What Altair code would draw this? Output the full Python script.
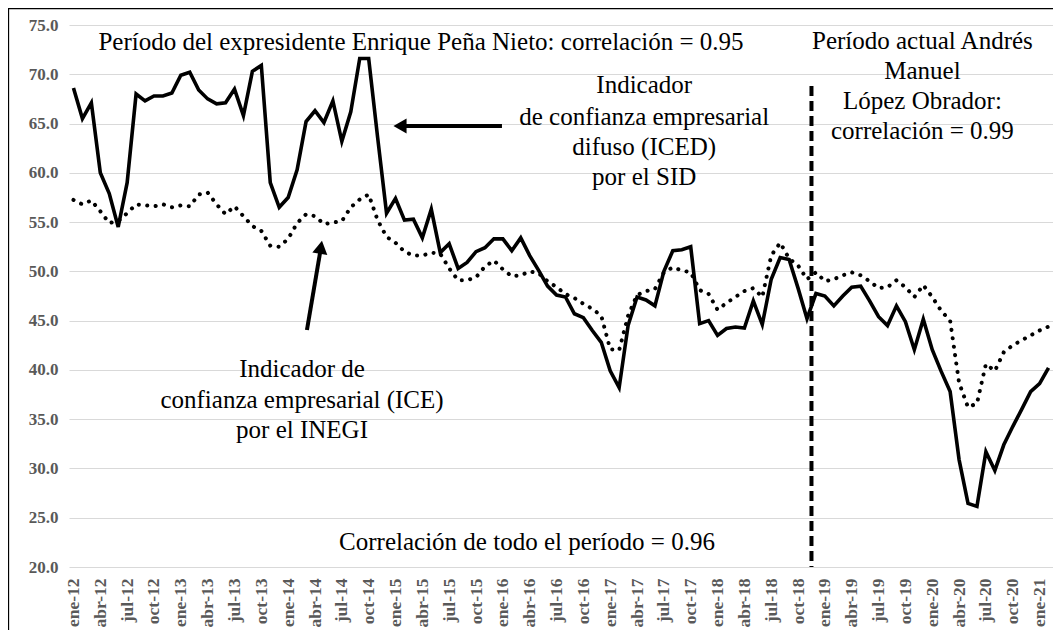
import altair as alt
import pandas as pd

meses = ["ene", "feb", "mar", "abr", "may", "jun", "jul", "ago", "sep", "oct", "nov", "dic"]
anios = list(range(12, 22))
etiquetas = [f"{m}-{a}" for a in anios for m in meses][:110]

# Indicador de confianza empresarial difuso (ICED) por el SID
iced = [68.6, 65.5, 67.1, 60.0, 57.9, 54.5, 59.0, 68.0, 67.3, 67.8,
        67.8, 68.1, 69.9, 70.2, 68.4, 67.5, 67.0, 67.1, 68.5, 65.8,
        70.3, 70.9, 59.0, 56.5, 57.5, 60.3, 65.2, 66.3, 65.1, 67.3,
        63.2, 66.2, 71.6, 71.6, 63.6, 55.9, 57.4, 55.2, 55.3, 53.4,
        56.3, 51.9, 52.8, 50.3, 50.9, 52.0, 52.4, 53.3, 53.3, 52.1,
        53.4, 51.6, 50.1, 48.5, 47.6, 47.4, 45.7, 45.3, 44.0, 42.8,
        39.9, 38.2, 44.5, 47.4, 47.1, 46.5, 50.0, 52.1, 52.2, 52.5,
        44.7, 45.0, 43.5, 44.2, 44.35, 44.25, 47.0, 44.6, 49.2, 51.4,
        51.2, 48.3, 45.2, 47.75, 47.5, 46.5, 47.5, 48.4, 48.5, 47.0,
        45.4, 44.5, 46.5, 44.9, 42.05, 45.15, 42.05, 39.85, 37.8, 30.9,
        26.45, 26.15, 31.7, 29.8, 32.4, 34.25, 36.0, 37.8, 38.6, 40.2]

# Indicador de confianza empresarial (ICE) por el INEGI
ice = [57.25, 56.8, 57.2, 56.1, 54.9, 55.1, 55.9, 56.8, 56.7, 56.6,
       56.8, 56.5, 56.7, 56.6, 57.8, 58.0, 56.8, 55.8, 56.6, 55.6,
       54.6, 54.1, 52.6, 52.5, 53.3, 54.9, 55.8, 55.6, 54.8, 54.95,
       55.1, 56.5, 57.3, 57.8, 55.2, 53.5, 52.9, 52.0, 51.6, 51.6,
       51.9, 51.8, 50.3, 49.1, 49.1, 49.4, 50.5, 51.1, 50.2, 49.5,
       49.6, 50.0, 49.8, 49.0, 48.4, 47.7, 47.3, 46.7, 46.2, 45.5,
       42.1, 42.0, 45.5, 47.6, 48.0, 48.2, 49.9, 50.4, 50.1, 49.9,
       48.1, 47.7, 46.1, 46.8, 47.4, 48.0, 48.3, 47.4, 51.6, 52.9,
       51.3, 50.6, 49.2, 49.9, 49.0, 49.2, 49.6, 49.9, 49.6, 49.0,
       48.3, 48.4, 49.1, 48.4, 47.4, 48.6, 47.4, 46.0, 45.0, 38.7,
       36.2, 36.6, 40.6, 39.9, 41.8, 42.5, 43.0, 43.5, 44.0, 44.4]

ticks_y = [20, 25, 30, 35, 40, 45, 50, 55, 60, 65, 70, 75]
ticks_x = list(range(0, 110, 3))

# annotations (position in data units: month index, value)
notas_t = ["Período del expresidente Enrique Peña Nieto: correlación = 0.95",
           "Período actual Andrés", "Manuel", "López Obrador:", "correlación = 0.99",
           "Indicador", "de confianza empresarial", "difuso (ICED)", "por el SID",
           "Indicador de", "confianza empresarial (ICE)", "por el INEGI",
           "Correlación de todo el período = 0.96"]
notas_x = [38.85, 94.9, 94.9, 94.9, 94.9, 63.8, 63.8, 63.8, 63.8, 25.55, 25.55, 25.55, 50.7]
notas_y = [73.3, 73.4, 70.35, 67.3, 64.25, 68.9, 65.7, 62.65, 59.55, 40.1, 36.95, 33.95, 22.55]

corte_x = [82.5]
corte_y = [68.8]
corte_y2 = [20.0]

flecha_x = [47.9, 26.1]
flecha_x2 = [37.0, 27.66]
flecha_y = [64.75, 44.05]
flecha_y2 = [64.75, 52.4]
punta_x = [36.5, 27.66]
punta_y = [64.75, 52.45]
punta_forma = ["triangle-left", "triangle-up"]
punta_ang = [0, 9.5]

W, H = 984, 542
FONT = "Liberation Serif, 'Times New Roman', Times, serif"
GREY = "#595959"

df = pd.DataFrame({"idx": list(range(len(etiquetas))), "mes": etiquetas, "ICED": iced, "ICE": ice})
df_notas = pd.DataFrame({"x": notas_x, "y": notas_y, "t": notas_t})
df_corte = pd.DataFrame({"x": corte_x, "y": corte_y, "y2": corte_y2})
df_flecha = pd.DataFrame({"x": flecha_x, "x2": flecha_x2, "y": flecha_y, "y2": flecha_y2})
df_punta = pd.DataFrame({"x": punta_x, "y": punta_y, "forma": punta_forma, "ang": punta_ang})

xs = alt.Scale(domain=[-0.5, 109.5], nice=False, zero=False)
ys = alt.Scale(domain=[20, 75], nice=False, zero=False)

label_js = "[" + ",".join(f"'{e}'" for e in etiquetas) + "][datum.value]"

x_axis = alt.Axis(values=ticks_x, labelExpr=label_js, labelAngle=-90, grid=False, ticks=False,
                  domain=False, labelFont=FONT, labelFontSize=17.5, labelFontWeight="bold",
                  labelColor=GREY, labelPadding=11, labelOverlap=False, labelFlush=False)
y_axis = alt.Axis(values=ticks_y, format=".1f", grid=True, gridColor="#d9d9d9", gridWidth=1.2,
                  ticks=False, domain=False, labelFont=FONT, labelFontSize=17,
                  labelFontWeight="bold", labelColor=GREY, labelPadding=11)


def X(field):
    return alt.X(field, scale=xs, axis=x_axis, title=None)


def Y(field):
    return alt.Y(field, scale=ys, axis=y_axis, title=None)


frame = alt.Chart(alt.Data(values=[{}])).mark_rect(fillOpacity=0, stroke="black", strokeWidth=1.3).encode(
    x=alt.value(-60.5), x2=alt.value(W + 40), y=alt.value(-16.5), y2=alt.value(H + 120))

l_iced = alt.Chart(df).mark_line(color="black", strokeWidth=3.6).encode(
    x=X("idx:Q"), y=Y("ICED:Q"))

l_ice = alt.Chart(df).mark_line(color="black", strokeWidth=4, strokeDash=[0.1, 8.4], strokeCap="round").encode(
    x=X("idx:Q"), y=Y("ICE:Q"))

corte = alt.Chart(df_corte).mark_rule(color="black", strokeWidth=4, strokeDash=[10, 5]).encode(
    x=X("x:Q"), y=Y("y:Q"), y2="y2:Q")

flechas = alt.Chart(df_flecha).mark_rule(color="black", strokeWidth=4).encode(
    x=X("x:Q"), x2="x2:Q", y=Y("y:Q"), y2="y2:Q")

puntas = alt.Chart(df_punta).mark_point(filled=True, color="black", opacity=1, size=230).encode(
    x=X("x:Q"), y=Y("y:Q"),
    shape=alt.Shape("forma:N", scale=None, legend=None),
    angle=alt.Angle("ang:Q", scale=None, legend=None))

notas = alt.Chart(df_notas).mark_text(font=FONT, fontSize=25, align="center", baseline="middle",
                                        color="black").encode(
    x=X("x:Q"), y=Y("y:Q"), text="t:N")

chart = alt.layer(frame, l_iced, l_ice, corte, flechas, puntas, notas).properties(
    width=W, height=H,
    autosize=alt.AutoSizeParams(type="none"),
    padding={"left": 61, "top": 17, "right": 0, "bottom": 63},
    background="white",
).configure_view(stroke=None)

chart.save("out.html", embed_options={"renderer": "svg", "actions": False})
